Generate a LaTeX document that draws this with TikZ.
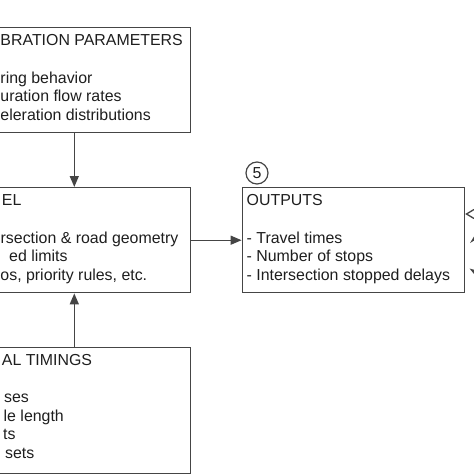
\documentclass[tikz,border=0pt]{standalone}
\usepackage{fontspec}
\setmainfont{Liberation Sans}
\usetikzlibrary{arrows.meta,calc}
\definecolor{ink}{HTML}{1E1E1E}
\definecolor{edge}{HTML}{454545}
\begin{document}
\begin{tikzpicture}[x=1pt,y=-1pt,
 box/.style={draw=edge, line width=1.4pt, minimum width=232pt, minimum height=105pt, inner sep=0pt, anchor=north east},
 txt/.style={inner sep=0pt, text=ink, font=\fontsize{15.9}{18}\selectfont},
 lab/.style={txt, anchor=base east},
 labw/.style={txt, anchor=base west},
 arr/.style={draw=edge, line width=1.4pt, -{Triangle[length=11pt,width=9pt]}},
 edgemark/.style={draw=edge, line width=1.3pt}]
\useasboundingbox (0,0) rectangle (474,474);
\clip (0,0) rectangle (474,474);
% boxes
\node[box] (calib) at (191,27) {};
\node[box] (model) at (191,187) {};
\node[box, minimum height=126pt] (signal) at (191,347) {};
\node[box, minimum width=222pt] (outputs) at (465,187) {};
% circle label
\node[txt, draw=edge, circle, line width=1.2pt, minimum size=22pt] (n5) at (257,173) {5};
% calibration texts
\node[labw] (c0) at (0.3,45.5) {BRATION PARAMETERS};
\node[labw] (c1) at (0.3,83) {ring behavior};
\node[labw] (c2) at (0.3,101.5) {uration flow rates};
\node[labw] (c3) at (0.3,120) {eleration distributions};
% model texts
\node[labw] (m0) at (1.7,205) {EL};
\node[labw] (m1) at (0.5,243) {rsection \& road geometry};
\node[labw] (m2) at (9,261.5) {ed limits};
\node[labw] (m3) at (0.3,280) {os, priority rules, etc.};
% signal texts
\node[labw] (s0) at (1.7,365) {AL TIMINGS};
\node[labw] (s1) at (4,402.5) {ses};
\node[labw] (s2) at (3.5,421) {le length};
\node[labw] (s3) at (3,439.5) {ts};
\node[labw] (s4) at (5,458) {sets};
% outputs texts
\node[labw] (o0) at (246.5,205) {OUTPUTS};
\node[labw] (o1) at (246.5,243) {- Travel times};
\node[labw] (o2) at (246.5,261.5) {- Number of stops};
\node[labw] (o3) at (246.5,280) {- Intersection stopped delays};
% connectors
\draw[arr] (calib.south) -- (model.north);
\draw[arr] (signal.north) -- (model.south);
\draw[arr] (model.east) -- (outputs.west);
% partial marks at right edge
\coordinate (r1) at (466.5,214);
\draw[edgemark] (474,209.5) -- (r1) -- (474,218.5);
\fill[edge] (470,243) -- (474,236.5) -- (475,240) -- cycle;
\fill[edge] (469.5,268.5) -- (475,270) -- (474,274) -- cycle;
\end{tikzpicture}
\end{document}
